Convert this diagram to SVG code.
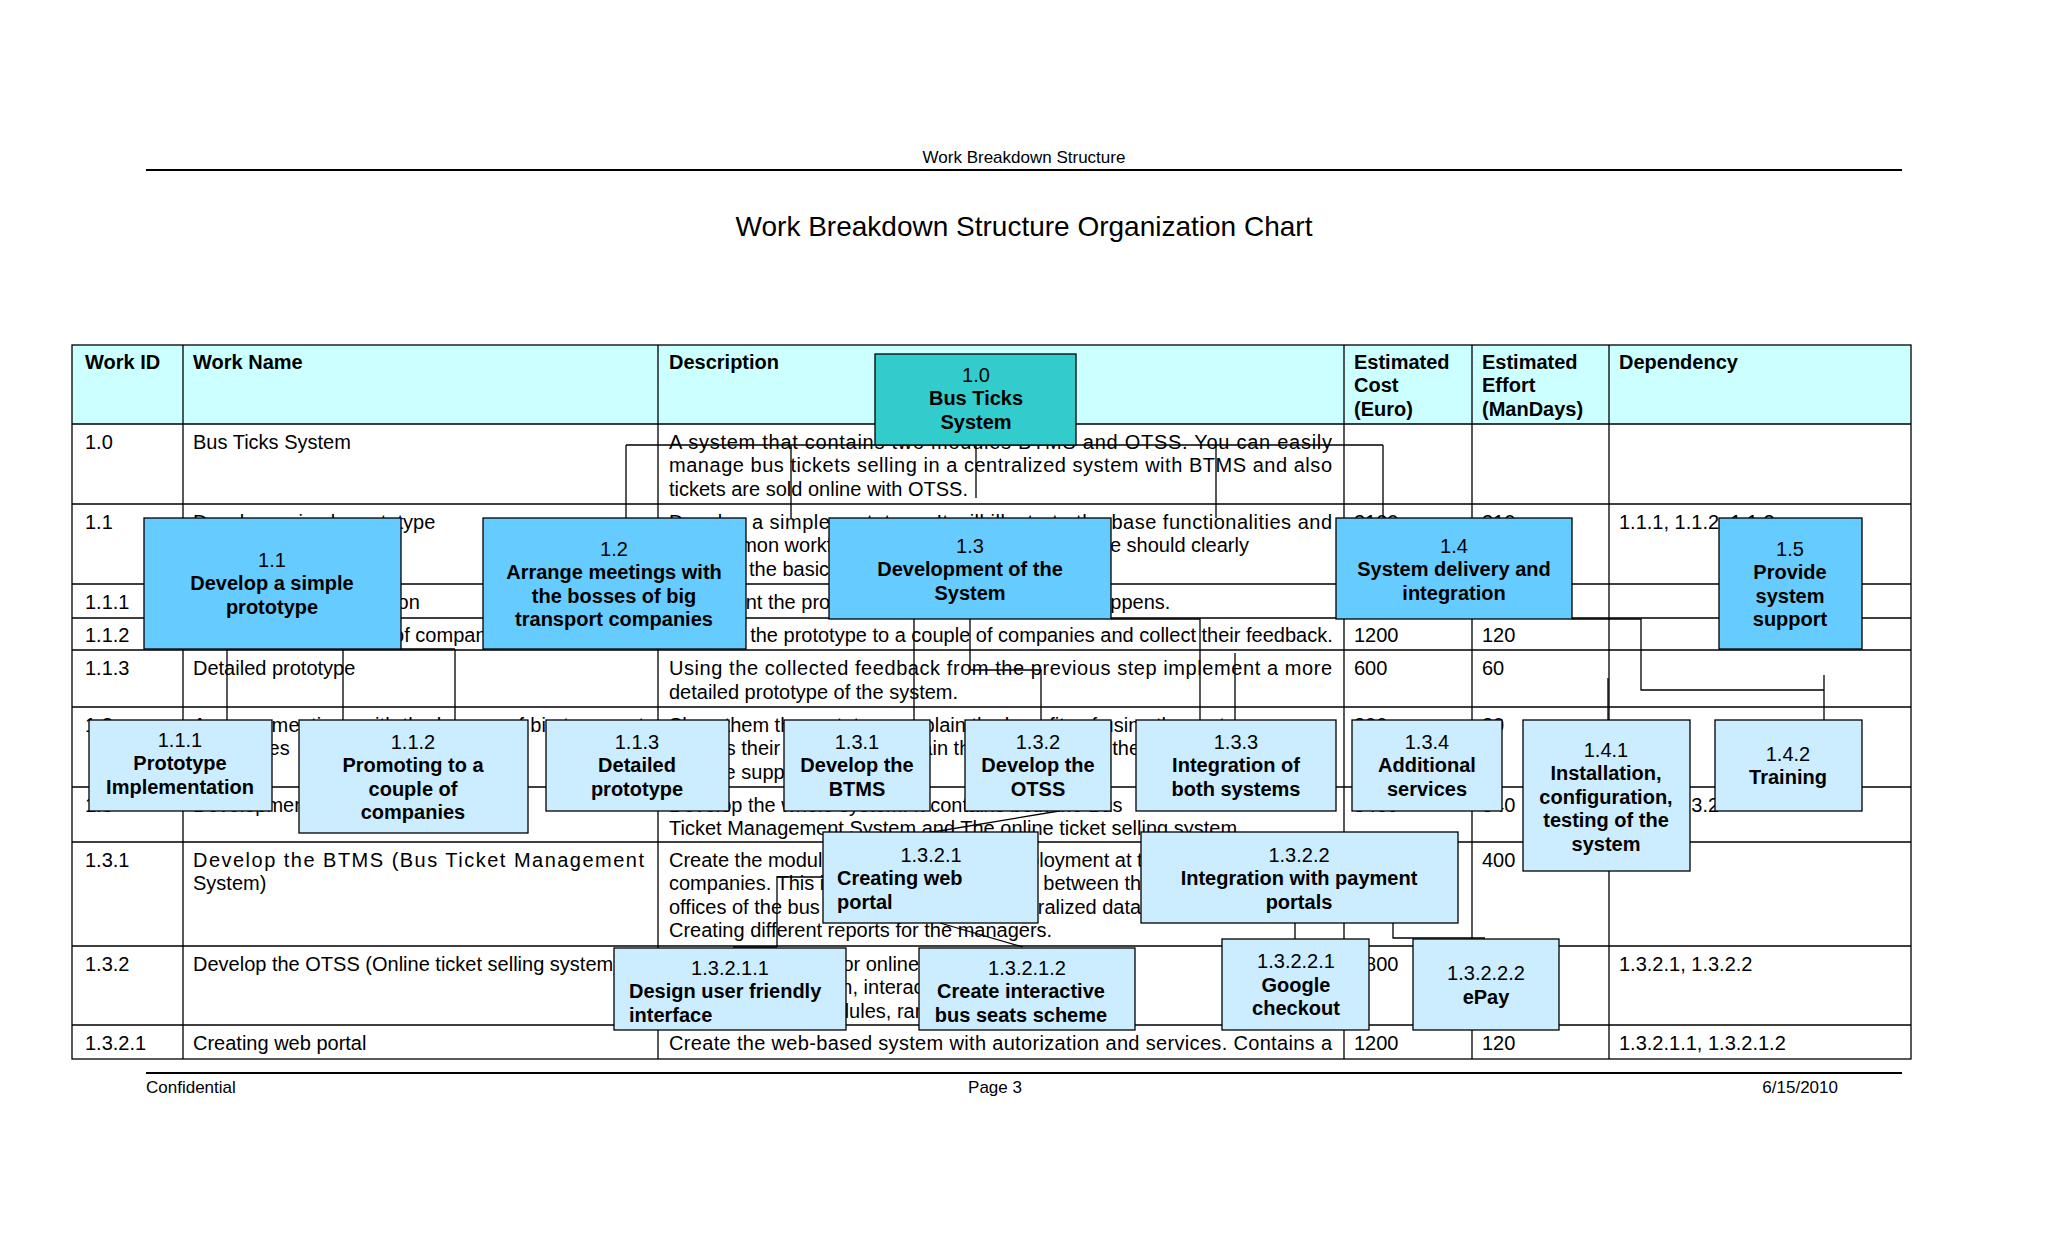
<svg xmlns="http://www.w3.org/2000/svg" width="2048" height="1243" viewBox="0 0 2048 1243">
<style>
text{font-family:"Liberation Sans",Arial,sans-serif;font-size:20px;fill:#000}
.h{font-weight:bold}
.c{text-anchor:middle}
.g{fill:none;stroke:#000;stroke-width:1.3}
.l2{fill:#66CCFF;stroke:#000;stroke-width:1.3}
.l3{fill:#CCECFF;stroke:#000;stroke-width:1.3}
.l1{fill:#33CCCC;stroke:#000;stroke-width:1.3}
.n text{text-anchor:middle}
.n .b{font-weight:bold}
</style>
<rect width="2048" height="1243" fill="#fff"/>
<text class="c" x="1024" y="163" style="font-size:17px">Work Breakdown Structure</text>
<line x1="146" y1="170" x2="1902" y2="170" stroke="#000" stroke-width="2"/>
<text class="c" x="1024" y="236" style="font-size:28px">Work Breakdown Structure Organization Chart</text>
<line x1="146" y1="1073" x2="1902" y2="1073" stroke="#000" stroke-width="2"/>
<text x="146" y="1093" style="font-size:17px">Confidential</text>
<text class="c" x="995" y="1093" style="font-size:17px">Page 3</text>
<text x="1838" y="1093" style="font-size:17px;text-anchor:end">6/15/2010</text>

<g id="table">
<rect x="72" y="345" width="1839" height="79" fill="#CCFFFF"/>
<rect x="72" y="345" width="1839" height="714" class="g" stroke-width="1.6"/>
<path class="g" d="M72 424H1911M72 504H1911M72 584H1911M72 618H1911M72 650H1911M72 707H1911M72 787H1911M72 842H1911M72 946H1911M72 1025H1911M183 345V1059M658 345V1059M1344 345V1059M1472 345V1059M1609 345V1059"/>
<g class="h">
<text x="85" y="369">Work ID</text><text x="193" y="369">Work Name</text><text x="669" y="369">Description</text>
<text x="1354" y="369">Estimated</text><text x="1354" y="392">Cost</text><text x="1354" y="416">(Euro)</text>
<text x="1482" y="369">Estimated</text><text x="1482" y="392">Effort</text><text x="1482" y="416">(ManDays)</text>
<text x="1619" y="369">Dependency</text>
</g>
<text x="85" y="449">1.0</text><text x="193" y="449">Bus Ticks System</text>
<text x="669" y="449" textLength="663" lengthAdjust="spacing">A system that contains two modules BTMS and OTSS. You can easily</text>
<text x="669" y="472" textLength="663" lengthAdjust="spacing">manage bus tickets selling in a centralized system with BTMS and also</text>
<text x="669" y="496">tickets are sold online with OTSS.</text>
<text x="85" y="529">1.1</text><text x="193" y="529">Develop a simple prototype</text>
<text x="669" y="529" textLength="663" lengthAdjust="spacing">Develop a simple prototype. It will illustrate the base functionalities and</text>
<text x="669" y="552">the common workflow of the system. The prototype should clearly</text>
<text x="669" y="576">illustrate the basic ideas.</text>
<text x="1354" y="529">3100</text><text x="1482" y="529">310</text><text x="1619" y="529">1.1.1, 1.1.2, 1.1.3</text>
<text x="85" y="609">1.1.1</text><text x="193" y="609">Prototype implementation</text>
<text x="669" y="609">Implement the prototype step which everything happens.</text>
<text x="85" y="642">1.1.2</text><text x="193" y="642">Promoting to a couple of companies</text>
<text x="669" y="642">Promote the prototype to a couple of companies and collect their feedback.</text>
<text x="1354" y="642">1200</text><text x="1482" y="642">120</text>
<text x="85" y="675">1.1.3</text><text x="193" y="675">Detailed prototype</text>
<text x="669" y="675" textLength="663" lengthAdjust="spacing">Using the collected feedback from the previous step implement a more</text>
<text x="669" y="699">detailed prototype of the system.</text>
<text x="1354" y="675">600</text><text x="1482" y="675">60</text>
<text x="85" y="732">1.2</text>
<text x="193" y="732" textLength="451" lengthAdjust="spacing">Arrange meetings with the bosses of big transport</text>
<text x="193" y="755">companies</text>
<text x="669" y="732">Show them the prototype, explain the benefits of using the system,</text>
<text x="669" y="755">discuss their needs and explain the differences of the</text>
<text x="669" y="779">and the support.</text>
<text x="1354" y="732">300</text><text x="1482" y="732">30</text>
<text x="85" y="812">1.3</text><text x="193" y="812">Development of the System</text>
<text x="669" y="812">Develop the whole system. It contains both the Bus</text>
<text x="669" y="835">Ticket Management System and The online ticket selling system.</text>
<text x="1354" y="812">5400</text><text x="1482" y="812">540</text><text x="1619" y="812">1.3.1, 1.3.2</text>
<text x="85" y="867">1.3.1</text>
<text x="193" y="867" textLength="451" lengthAdjust="spacing">Develop the BTMS (Bus Ticket Management</text>
<text x="193" y="890">System)</text>
<text x="669" y="867">Create the modules for management, deployment at the</text>
<text x="669" y="890">companies. This includes synchronization between the</text>
<text x="669" y="914">offices of the bus companies and the centralized database.</text>
<text x="669" y="937">Creating different reports for the managers.</text>
<text x="1354" y="867">4000</text><text x="1482" y="867">400</text>
<text x="85" y="971">1.3.2</text><text x="193" y="971">Develop the OTSS (Online ticket selling system)</text>
<text x="669" y="971">Create the system for online ticket reservation. It</text>
<text x="669" y="994">contains autorization, interactive</text>
<text x="669" y="1018">seats, payment modules, ranking, forum</text>
<text x="1354" y="971">3800</text><text x="1482" y="971">380</text><text x="1619" y="971">1.3.2.1, 1.3.2.2</text>
<text x="85" y="1050">1.3.2.1</text><text x="193" y="1050">Creating web portal</text>
<text x="669" y="1050" textLength="663" lengthAdjust="spacing">Create the web-based system with autorization and services. Contains a</text>
<text x="1354" y="1050">1200</text><text x="1482" y="1050">120</text><text x="1619" y="1050">1.3.2.1.1, 1.3.2.1.2</text>
</g>

<g id="connectors" class="g">
<path d="M626 445H1383M626 445V518M791 445V518M976 445V498M1216 445V518M1383 445V518"/>
<path d="M227 649H455M227 649V720M343 649V720M455 649V720"/>
<path d="M914 619V720M970 619V670H1041V720M1111 619H1200V720M1235 653V720"/>
<path d="M1572 619H1641V690H1824M1824 675V720M1608 678V720"/>
<path d="M1059 811L927 833M777 947V877H823M733 947H777M940 923L1023 947"/>
<path d="M1298 900V918H1295V939M1393 923V938H1485"/>
</g>

<g id="n1.0" class="n"><rect class="l1" x="875" y="354" width="201" height="91"/><text x="976" y="382">1.0</text><text class="b" x="976" y="405">Bus Ticks</text><text class="b" x="976" y="429">System</text></g>
<g id="n1.1" class="n"><rect class="l2" x="144" y="518" width="257" height="131"/><text x="272" y="567">1.1</text><text class="b" x="272" y="590">Develop a simple</text><text class="b" x="272" y="614">prototype</text></g>
<g id="n1.2" class="n"><rect class="l2" x="483" y="518" width="263" height="131"/><text x="614" y="556">1.2</text><text class="b" x="614" y="579">Arrange meetings with</text><text class="b" x="614" y="603">the bosses of big</text><text class="b" x="614" y="626">transport companies</text></g>
<g id="n1.3" class="n"><rect class="l2" x="829" y="518" width="282" height="101"/><text x="970" y="553">1.3</text><text class="b" x="970" y="576">Development of the</text><text class="b" x="970" y="600">System</text></g>
<g id="n1.4" class="n"><rect class="l2" x="1336" y="518" width="236" height="101"/><text x="1454" y="553">1.4</text><text class="b" x="1454" y="576">System delivery and</text><text class="b" x="1454" y="600">integration</text></g>
<g id="n1.5" class="n"><rect class="l2" x="1719" y="518" width="143" height="131"/><text x="1790" y="556">1.5</text><text class="b" x="1790" y="579">Provide</text><text class="b" x="1790" y="603">system</text><text class="b" x="1790" y="626">support</text></g>
<g id="n1.1.1" class="n"><rect class="l3" x="89" y="720" width="183" height="91"/><text x="180" y="747">1.1.1</text><text class="b" x="180" y="770">Prototype</text><text class="b" x="180" y="794">Implementation</text></g>
<g id="n1.1.2" class="n"><rect class="l3" x="299" y="720" width="229" height="113"/><text x="413" y="749">1.1.2</text><text class="b" x="413" y="772">Promoting to a</text><text class="b" x="413" y="796">couple of</text><text class="b" x="413" y="819">companies</text></g>
<g id="n1.1.3" class="n"><rect class="l3" x="546" y="720" width="183" height="91"/><text x="637" y="749">1.1.3</text><text class="b" x="637" y="772">Detailed</text><text class="b" x="637" y="796">prototype</text></g>
<g id="n1.3.1" class="n"><rect class="l3" x="784" y="720" width="146" height="91"/><text x="857" y="749">1.3.1</text><text class="b" x="857" y="772">Develop the</text><text class="b" x="857" y="796">BTMS</text></g>
<g id="n1.3.2" class="n"><rect class="l3" x="965" y="720" width="146" height="91"/><text x="1038" y="749">1.3.2</text><text class="b" x="1038" y="772">Develop the</text><text class="b" x="1038" y="796">OTSS</text></g>
<g id="n1.3.3" class="n"><rect class="l3" x="1136" y="720" width="200" height="91"/><text x="1236" y="749">1.3.3</text><text class="b" x="1236" y="772">Integration of</text><text class="b" x="1236" y="796">both systems</text></g>
<g id="n1.3.4" class="n"><rect class="l3" x="1352" y="720" width="150" height="91"/><text x="1427" y="749">1.3.4</text><text class="b" x="1427" y="772">Additional</text><text class="b" x="1427" y="796">services</text></g>
<g id="n1.4.1" class="n"><rect class="l3" x="1523" y="720" width="167" height="151"/><text x="1606" y="757">1.4.1</text><text class="b" x="1606" y="780">Installation,</text><text class="b" x="1606" y="804">configuration,</text><text class="b" x="1606" y="827">testing of the</text><text class="b" x="1606" y="851">system</text></g>
<g id="n1.4.2" class="n"><rect class="l3" x="1715" y="720" width="147" height="91"/><text x="1788" y="761">1.4.2</text><text class="b" x="1788" y="784">Training</text></g>
<g id="n1.3.2.1" class="n"><rect class="l3" x="823" y="832" width="215" height="91"/><text x="931" y="862">1.3.2.1</text><text class="b" x="837" y="885" style="text-anchor:start">Creating web</text><text class="b" x="837" y="909" style="text-anchor:start">portal</text></g>
<g id="n1.3.2.2" class="n"><rect class="l3" x="1141" y="832" width="317" height="91"/><text x="1299" y="862">1.3.2.2</text><text class="b" x="1299" y="885">Integration with payment</text><text class="b" x="1299" y="909">portals</text></g>
<g id="n1.3.2.1.1" class="n"><rect class="l3" x="614" y="948" width="232" height="82"/><text x="730" y="975">1.3.2.1.1</text><text class="b" x="629" y="998" style="text-anchor:start">Design user friendly</text><text class="b" x="629" y="1022" style="text-anchor:start">interface</text></g>
<g id="n1.3.2.1.2" class="n"><rect class="l3" x="919" y="948" width="216" height="82"/><text x="1027" y="975">1.3.2.1.2</text><text class="b" x="1021" y="998">Create interactive</text><text class="b" x="1021" y="1022">bus seats scheme</text></g>
<g id="n1.3.2.2.1" class="n"><rect class="l3" x="1222" y="939" width="147" height="91"/><text x="1296" y="968">1.3.2.2.1</text><text class="b" x="1296" y="992">Google</text><text class="b" x="1296" y="1015">checkout</text></g>
<g id="n1.3.2.2.2" class="n"><rect class="l3" x="1413" y="939" width="146" height="91"/><text x="1486" y="980">1.3.2.2.2</text><text class="b" x="1486" y="1004">ePay</text></g>
</svg>
